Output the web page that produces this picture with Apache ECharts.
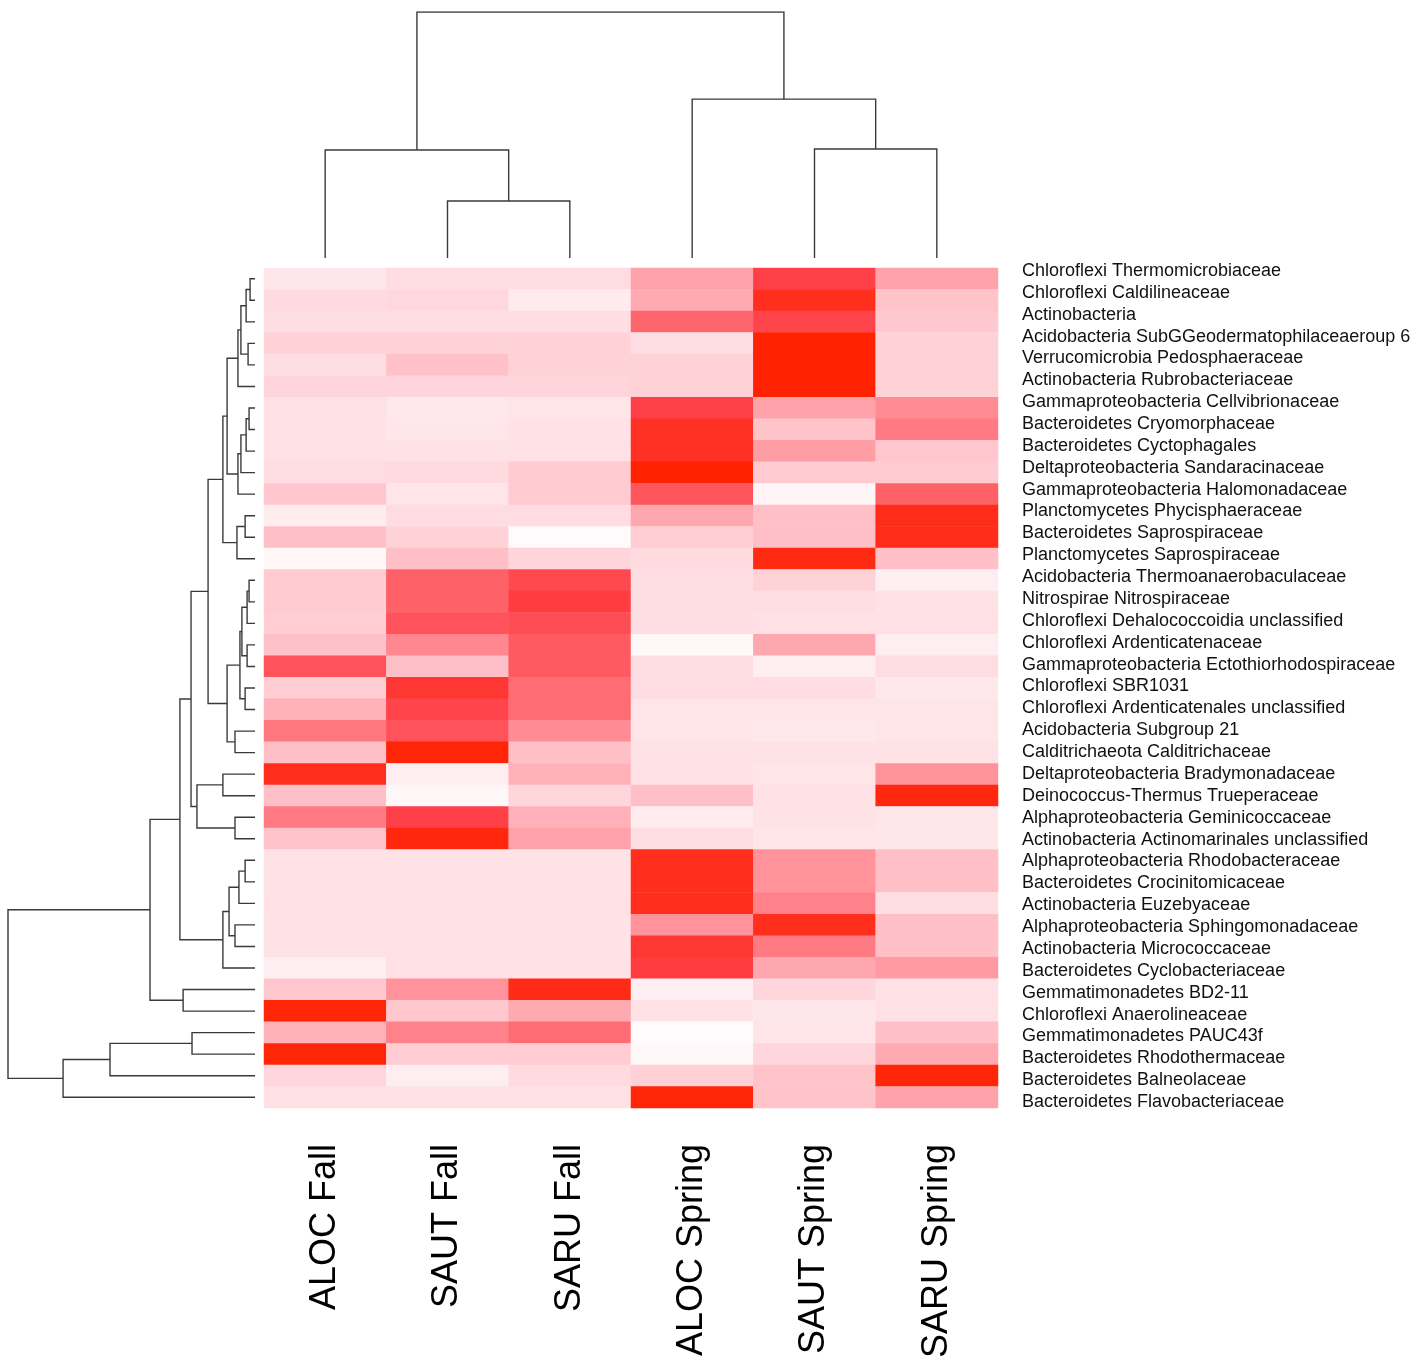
<!DOCTYPE html>
<html>
<head>
<meta charset="utf-8">
<script src="https://cdn.jsdelivr.net/npm/echarts@6/dist/echarts.min.js"></script>
<style>
html,body{margin:0;padding:0;background:#fff;}
#chart{width:1417px;height:1367px;}
</style>
</head>
<body>
<div id="chart"></div>
<script>
const rowLabels = [
  'Chloroflexi Thermomicrobiaceae',
  'Chloroflexi Caldilineaceae',
  'Actinobacteria',
  'Acidobacteria SubGGeodermatophilaceaeroup 6',
  'Verrucomicrobia Pedosphaeraceae',
  'Actinobacteria Rubrobacteriaceae',
  'Gammaproteobacteria Cellvibrionaceae',
  'Bacteroidetes Cryomorphaceae',
  'Bacteroidetes Cyctophagales',
  'Deltaproteobacteria Sandaracinaceae',
  'Gammaproteobacteria Halomonadaceae',
  'Planctomycetes Phycisphaeraceae',
  'Bacteroidetes Saprospiraceae',
  'Planctomycetes Saprospiraceae',
  'Acidobacteria Thermoanaerobaculaceae',
  'Nitrospirae Nitrospiraceae',
  'Chloroflexi Dehalococcoidia unclassified',
  'Chloroflexi Ardenticatenaceae',
  'Gammaproteobacteria Ectothiorhodospiraceae',
  'Chloroflexi SBR1031',
  'Chloroflexi Ardenticatenales unclassified',
  'Acidobacteria Subgroup 21',
  'Calditrichaeota Calditrichaceae',
  'Deltaproteobacteria Bradymonadaceae',
  'Deinococcus-Thermus Trueperaceae',
  'Alphaproteobacteria Geminicoccaceae',
  'Actinobacteria Actinomarinales unclassified',
  'Alphaproteobacteria Rhodobacteraceae',
  'Bacteroidetes Crocinitomicaceae',
  'Actinobacteria Euzebyaceae',
  'Alphaproteobacteria Sphingomonadaceae',
  'Actinobacteria Micrococcaceae',
  'Bacteroidetes Cyclobacteriaceae',
  'Gemmatimonadetes BD2-11',
  'Chloroflexi Anaerolineaceae',
  'Gemmatimonadetes PAUC43f',
  'Bacteroidetes Rhodothermaceae',
  'Bacteroidetes Balneolaceae',
  'Bacteroidetes Flavobacteriaceae'
];
const colLabels = ['ALOC Fall','SAUT Fall','SARU Fall','ALOC Spring','SAUT Spring','SARU Spring'];

// relative abundance scores (0 = white ... 10 = deepest red), one array per sample
const alocFall   = [1.0,1.6,1.4,2.0,1.4,1.9,1.3,1.3,1.3,1.5,2.5,0.7,2.8,0.2,2.3,2.3,2.2,2.7,7.2,2.2,3.4,5.6,2.8,9.2,2.8,5.5,2.6,1.2,1.2,1.3,1.2,1.2,0.6,2.5,9.8,3.4,9.8,1.8,1.3];
const sautFall   = [1.5,1.7,1.4,2.0,2.7,1.9,0.9,1.0,1.2,1.6,1.1,1.5,2.0,2.8,6.5,6.5,7.2,5.0,2.8,8.6,7.8,7.2,9.8,0.6,0.2,8.0,9.6,1.2,1.2,1.3,1.2,1.3,1.3,4.6,2.5,5.2,2.2,0.6,1.3];
const saruFall   = [1.5,0.8,1.4,2.0,2.0,1.9,1.1,1.2,1.3,2.3,2.3,1.5,0.0,1.9,7.6,8.2,7.4,6.8,6.8,6.0,6.0,4.8,2.8,3.4,1.8,3.4,4.0,1.2,1.2,1.3,1.2,1.2,1.2,9.4,3.7,6.0,2.2,1.6,1.3];
const alocSpring = [4.0,3.7,6.3,1.4,2.0,2.0,8.0,9.0,9.0,10.0,7.0,3.8,2.2,1.6,1.4,1.4,1.4,0.1,1.4,1.5,1.1,1.1,1.2,1.2,2.8,0.7,1.4,9.2,9.2,9.2,4.6,8.6,8.2,0.6,1.2,0.0,0.1,2.1,9.8];
const sautSpring = [8.0,9.2,7.8,10.0,10.0,10.0,4.0,2.6,4.2,2.3,0.3,2.8,2.8,9.5,2.0,1.4,1.3,3.8,0.6,1.5,1.1,0.9,1.2,1.1,1.2,1.2,1.1,4.6,4.6,5.2,9.2,5.5,3.8,1.8,1.0,1.1,1.8,2.6,2.6];
const saruSpring = [4.0,2.6,2.4,2.0,2.0,2.0,4.8,5.5,2.5,2.3,6.5,9.3,9.3,2.8,0.6,1.2,1.3,0.6,1.5,0.9,1.1,1.1,1.2,4.6,9.6,1.0,1.0,2.8,2.8,1.4,2.8,2.8,4.3,1.2,1.3,2.8,3.7,9.8,4.0];

// row clustering: [childA, childB, height]; ids < 39 are rows, id 39+k is merge k
const rowMerges = [
  [0,1,2.0],[39,2,3.6],[3,4,2.8],[40,41,5.7],[42,5,6.9],
  [6,7,2.4],[44,8,3.6],[45,9,5.7],[46,10,6.9],[43,47,11.3],
  [11,12,4.0],[49,13,7.3],[48,50,13.0],
  [14,15,2.4],[52,16,3.2],[17,18,3.2],[53,54,5.3],[19,20,4.0],[55,56,6.1],[21,22,8.1],[57,58,11.3],
  [51,59,19.0],
  [23,24,13.0],[25,26,8.1],[61,62,23.5],[60,63,25.9],
  [27,28,4.0],[65,29,6.5],[30,31,8.1],[66,67,10.5],[68,32,13.0],
  [64,69,30.4],[33,34,29.1],[70,71,42.5],
  [35,36,25.5],[73,37,58.7],[74,38,77.7],[72,75,100]
];
// column clustering: ids < 6 are samples
const colMerges = [[1,2,23.2],[0,6,43.9],[4,5,44.3],[3,8,64.6],[7,9,100]];

function dendroLines(n, merges, horizontal) {
  const pos = [], hgt = [];
  for (let i = 0; i < n; i++) { pos.push(i + 0.5); hgt.push(0); }
  const out = [];
  merges.forEach(m => {
    const a = m[0], b = m[1], h = m[2];
    const pa = pos[a], pb = pos[b], ha = hgt[a], hb = hgt[b];
    let pts;
    if (horizontal) pts = [[ha, pa], [h, pa], [h, pb], [hb, pb]];
    else pts = [[pa, ha], [pa, h], [pb, h], [pb, hb]];
    out.push({ coords: pts });
    pos.push((pa + pb) / 2); hgt.push(h);
  });
  return out;
}

const samples = [alocFall, sautFall, saruFall, alocSpring, sautSpring, saruSpring];
const heatData = [];
samples.forEach((arr, c) => arr.forEach((v, r) => heatData.push([c, r, v])));

const FONT = 'Liberation Sans, Arial, Helvetica, sans-serif';
const G_LEFT = 264, G_TOP = 268, G_W = 734, G_H = 840;

const chart = echarts.init(document.getElementById('chart'), null, { renderer: 'canvas' });
chart.setOption({
  backgroundColor: '#ffffff',
  animation: false,
  grid: [
    { left: G_LEFT, top: G_TOP, width: G_W, height: G_H },
    { left: 8, top: G_TOP, width: 247, height: G_H },
    { left: G_LEFT, top: 12, width: G_W, height: 246 },
    { left: G_LEFT, top: 260, width: G_W, height: 853 }
  ],
  xAxis: [
    { type: 'category', gridIndex: 0, data: colLabels, position: 'bottom',
      axisLine: { show: false }, axisTick: { show: false }, splitLine: { show: false },
      axisLabel: { rotate: 90, fontSize: 36, color: '#000', fontFamily: FONT, margin: 36 } },
    { type: 'value', gridIndex: 1, min: 0, max: 100, inverse: true, show: false },
    { type: 'value', gridIndex: 2, min: 0, max: 6, show: false },
    { type: 'value', gridIndex: 3, min: 0, max: 1, show: false }
  ],
  yAxis: [
    { type: 'category', gridIndex: 0, data: rowLabels, inverse: true, show: false },
    { type: 'value', gridIndex: 1, min: 0, max: 39, inverse: true, show: false },
    { type: 'value', gridIndex: 2, min: 0, max: 100, show: false },
    { type: 'category', gridIndex: 3, data: rowLabels, inverse: true, position: 'right',
      axisLine: { show: false }, axisTick: { show: false }, splitLine: { show: false },
      axisLabel: { fontSize: 18, color: '#111', fontFamily: FONT, margin: 24, interval: 0 } }
  ],
  visualMap: {
    show: false, type: 'continuous', min: 0, max: 10, seriesIndex: 0,
    inRange: { color: ['#fffafb', '#ffd2d8', '#ffa2aa', '#ff6c74', '#ff4048', '#ff2200'] }
  },
  series: [
    { type: 'heatmap', xAxisIndex: 0, yAxisIndex: 0, data: heatData,
      itemStyle: { borderWidth: 0 }, emphasis: { disabled: true } },
    { type: 'lines', coordinateSystem: 'cartesian2d', xAxisIndex: 1, yAxisIndex: 1,
      polyline: true, data: dendroLines(rowLabels.length, rowMerges, true),
      lineStyle: { color: '#3a3a3a', width: 1.4, opacity: 1 }, silent: true },
    { type: 'lines', coordinateSystem: 'cartesian2d', xAxisIndex: 2, yAxisIndex: 2,
      polyline: true, data: dendroLines(colLabels.length, colMerges, false),
      lineStyle: { color: '#3a3a3a', width: 1.4, opacity: 1 }, silent: true }
  ]
});
</script>
</body>
</html>
